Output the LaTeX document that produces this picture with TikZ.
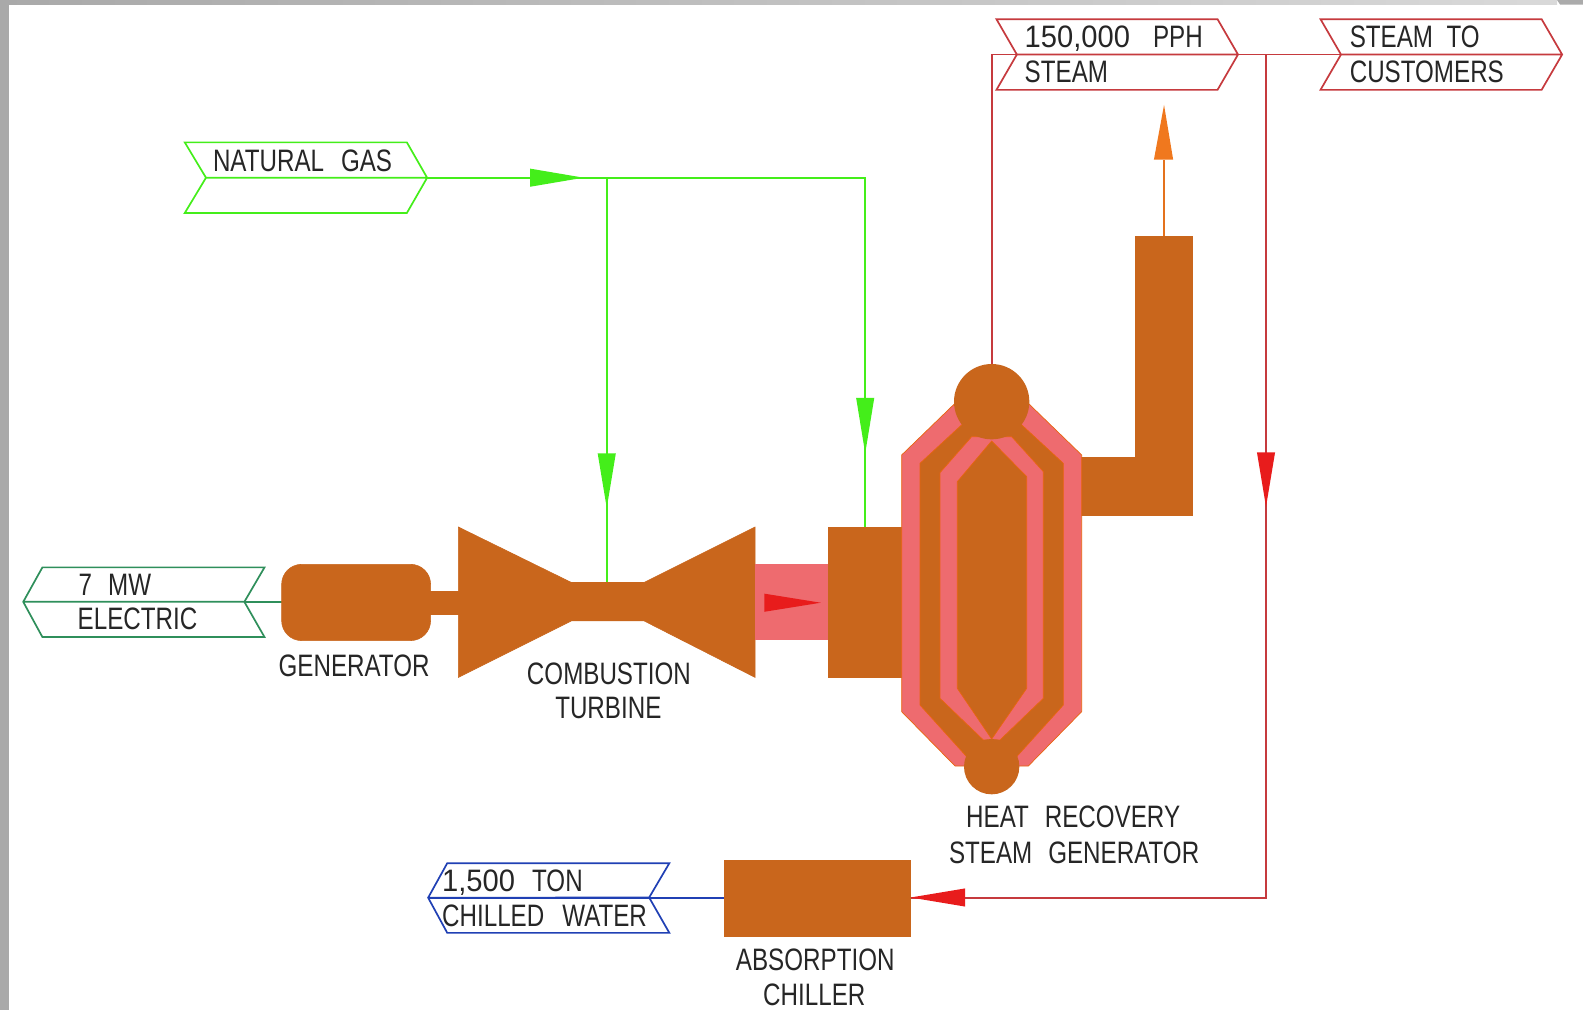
\documentclass[tikz,border=0pt]{standalone}
\usepackage{fontspec}
\setmainfont{Liberation Sans}[FakeStretch=0.78]
\newfontfamily\digitfont{Liberation Sans}[FakeStretch=0.94]
\definecolor{brown}{HTML}{C9661C}
\definecolor{edge}{HTML}{E8650F}
\definecolor{pink}{HTML}{EE6B6F}
\definecolor{gasg}{HTML}{44EE1A}
\definecolor{steamr}{HTML}{C63A3E}
\definecolor{arrowr}{HTML}{E81C1C}
\definecolor{elec}{HTML}{2F8F5B}
\definecolor{chw}{HTML}{2040B4}
\definecolor{stackor}{HTML}{F0781E}
\definecolor{framegray}{HTML}{A9A9A9}
\tikzset{
  lab/.style={anchor=base west,inner sep=0pt,outer sep=0pt,text=black!85,font=\fontsize{31}{31}\selectfont},
  machine/.style={fill=brown,draw=brown,line width=.6pt},
  hot/.style={fill=pink,draw=edge,line width=.7pt,line join=round},
  core/.style={fill=brown,draw=edge,line width=.7pt,line join=round},
  tag/.style={line width=1.7pt,line join=miter},
  flow/.style={line width=1.9pt},
}
\begin{document}
\begin{tikzpicture}[x=1pt,y=-1pt]
\useasboundingbox (0,0) rectangle (1583,1010);
\fill[white] (0,0) rectangle (1583,1010);
\shade[left color=framegray,right color=black!15] (0,0) rectangle (1557,4.5);
\fill[black!33] (1557,0) -- (1583,0) -- (1583,4.5) -- (1560,4.5) -- cycle;
\fill[framegray] (0,0) rectangle (9,1010);
\begin{scope}[scale=1.00957]
% named points
\coordinate (gasNotch) at (204,176);
\coordinate (gasTip) at (423,176);
\coordinate (gasJoin) at (601,176);
\coordinate (gasCorner) at (857,176);
\coordinate (gasCT) at (601,577);
\coordinate (gasDuct) at (857,522);
\coordinate (elecTip) at (23,596);
\coordinate (elecNotch) at (242,596);
\coordinate (genWest) at (280,596);
\coordinate (ppNotch) at (1007,54);
\coordinate (ppTip) at (1226,54);
\coordinate (ppCorner) at (982,54);
\coordinate (drum) at (982,361);
\coordinate (stNotch) at (1328,54);
\coordinate (stTip) at (1547,54);
\coordinate (stJoin) at (1254,54);
\coordinate (stCorner) at (1254,889);
\coordinate (chEast) at (902,889);
\coordinate (chWest) at (717,889);
\coordinate (chwTip) at (424,889);
\coordinate (stackTop) at (1153,234);
\coordinate (stackArrow) at (1153,158);
% connectors
\draw[flow,gasg] (gasTip) -- (gasCorner) -- (gasDuct);
\draw[flow,gasg] (gasJoin) -- (gasCT);
\draw[flow,steamr] (drum) -- (ppCorner) -- (ppNotch);
\draw[flow,steamr] (ppTip) -- (stNotch);
\draw[flow,steamr] (stJoin) -- (stCorner) -- (chEast);
\draw[flow,elec] (elecNotch) -- (genWest);
\draw[flow,chw] (chwTip) -- (chWest);
\draw[flow,stackor!70!brown] (stackTop) -- (stackArrow);
% tags
\draw[tag,gasg] (183,141) -- (403,141) -- (gasTip) -- (403,211) -- (183,211) -- (gasNotch) -- cycle (gasNotch) -- (gasTip);
\draw[tag,steamr] (987,19) -- (1206,19) -- (ppTip) -- (1206,89) -- (987,89) -- (ppNotch) -- cycle (ppNotch) -- (ppTip);
\draw[tag,steamr] (1308,19) -- (1527,19) -- (stTip) -- (1527,89) -- (1308,89) -- (stNotch) -- cycle (stNotch) -- (stTip);
\draw[tag,elec] (elecTip) -- (42,562) -- (262,562) -- (elecNotch) -- (262,631) -- (42,631) -- cycle (elecTip) -- (elecNotch);
\draw[tag,chw] (chwTip) -- (443,855) -- (663,855) -- (643,889) -- (663,924) -- (443,924) -- cycle (chwTip) -- (643,889);
% machines
\fill[machine,rounded corners=20pt] (279,559) rectangle (426.5,634.5);
\fill[machine] (426,586) rectangle (455,608);
\fill[machine] (454,522) -- (566,577) -- (638,577) -- (748,522) -- (748,671) -- (638,615) -- (566,615) -- (454,671) -- cycle;
\fill[pink] (748,559) rectangle (820,634);
\fill[machine] (820,522) rectangle (893,671);
\fill[machine] (1071,453) -- (1125,453) -- (1125,234) -- (1181,234) -- (1181,510) -- (1071,510) -- cycle;
\fill[machine] (717,852) rectangle (902,927);
% arrows
\fill[gasg] (525,167) -- (578,176) -- (525,185) -- cycle;
\fill[gasg] (592,449) -- (610,449) -- (601,503) -- cycle;
\fill[gasg] (848,394) -- (866,394) -- (857,449) -- cycle;
\fill[arrowr] (1245,448) -- (1263,448) -- (1254,502) -- cycle;
\fill[arrowr] (956,880) -- (902,889) -- (956,898) -- cycle;
\fill[arrowr] (757,588) -- (813,597) -- (757,606) -- cycle;
\fill[stackor] (1143,158) -- (1162,158) -- (1153,104) -- cycle;
\end{scope}
% HRSG, in crop coordinates
\begin{scope}[shift={(880,340)},scale=1/3]
\draw[hot] (65,345) -- (225,190) -- (445,190) -- (605,345) -- (605,1115) -- (445,1278) -- (225,1278) -- (65,1115) -- cycle;
\draw[core] (120,370) -- (250,250) -- (420,250) -- (550,370) -- (550,1095) -- (410,1250) -- (260,1250) -- (120,1095) -- cycle;
\draw[hot] (180,398) -- (275,290) -- (395,290) -- (490,395) -- (490,1075) -- (360,1200) -- (310,1200) -- (180,1075) -- cycle;
\draw[core] (335,303) -- (440,410) -- (440,1045) -- (335,1197) -- (232,1045) -- (232,425) -- cycle;
\fill[brown] (335,185) circle (113);
\fill[brown] (335,1280) circle (83);
\end{scope}
\begin{scope}[scale=1.00957]
\node[lab] (tGas) at (211,170) {NATURAL\hspace{17pt}GAS};
\node[lab] (tPph) at (1015,47) {{\digitfont 150,000}\hspace{23pt}PPH};
\node[lab] (tSteam) at (1015,82) {STEAM};
\node[lab] (tTo) at (1337,47) {STEAM\ \ TO};
\node[lab] (tCust) at (1337,82) {CUSTOMERS};
\node[lab] (tMw) at (78,590) {7\hspace{16pt}MW};
\node[lab] (tElec) at (77,624) {ELECTRIC};
\node[lab] (tGen) at (276,670) {GENERATOR};
\node[lab] (tCombA) at (522,678) {COMBUSTION};
\node[lab] (tCombB) at (550,712) {TURBINE};
\node[lab] (tHrsgA) at (957,820) {HEAT\hspace{16pt}RECOVERY};
\node[lab] (tHrsgB) at (940,855) {STEAM\hspace{16pt}GENERATOR};
\node[lab] (tTon) at (438,883) {{\digitfont 1,500}\hspace{17pt}TON};
\node[lab] (tChw) at (438,918) {CHILLED\hspace{18pt}WATER};
\node[lab] (tAbsA) at (729,961) {ABSORPTION};
\node[lab] (tAbsB) at (756,996) {CHILLER};
\end{scope}
\end{tikzpicture}
\end{document}
